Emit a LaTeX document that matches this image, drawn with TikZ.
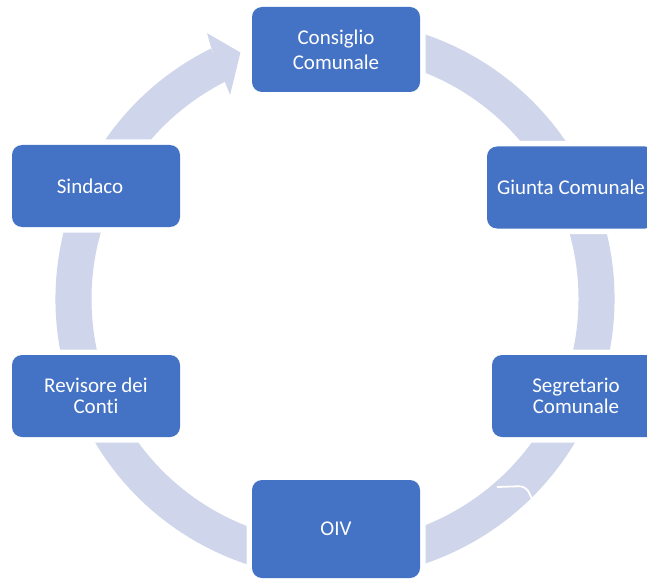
\documentclass[tikz,border=0pt]{standalone}
\usepackage{fontspec}
\setmainfont[Ligatures=CommonOff]{Carlito}
\usetikzlibrary{calc}
\definecolor{boxblue}{HTML}{4472C4}
\definecolor{bandcol}{HTML}{CFD5EA}
\begin{document}
\begin{tikzpicture}[x=1pt,y=1pt,
  boxst/.style={rectangle, rounded corners=10pt, fill=boxblue,
    preaction={draw=white, line width=11pt},
    minimum width=168pt, minimum height=82pt, inner sep=0pt,
    text=white, align=center, font=\fontsize{21}{25}\selectfont},
  tight/.style={font=\fontsize{21}{20.5}\selectfont},
  txt/.style={text=white, align=center, inner sep=0pt, font=\fontsize{21}{25}\selectfont},
  band/.style={fill=bandcol}]
\clip (0,0) rectangle (647,582);
\fill[white] (0,0) rectangle (647,582);
\coordinate (c) at (335,283);
% ring band
\fill[band] ($(c)+(116.4:279.5)$) arc[start angle=116.4, end angle=450, radius=279.5]
  -- ($(c)+(450:243.5)$) arc[start angle=450, end angle=116.4, radius=243.5] -- cycle;
% arrow head
\fill[band] ($(c)+(115.7:295)$) -- ($(c)+(111:264)$) -- ($(c)+(117.2:229.5)$) -- ($(c)+(116.9:243)$) -- ($(c)+(116.3:278)$) -- cycle;
% seam artifact
\draw[white, line width=1.8pt, rounded corners=7pt] (497,95) -- (526,96) -- (532,83);
% boxes
\node[boxst, minimum height=85pt] (cons) at (336,532.5) {Consiglio\\Comunale};
\node[boxst] (giun) at (571,394.5) {Giunta Comunale};
\node[boxst, tight] (segr) at (576,186) {Segretario\\Comunale};
\node[boxst, minimum height=98pt] (oiv) at (336,53) {OIV};
\node[boxst, tight] (revi) at (96,186) {Revisore dei\\Conti};
\node[boxst] (sind) at (96,396) {};
\node[txt] (sindt) at (90,396) {Sindaco};
\end{tikzpicture}
\end{document}
